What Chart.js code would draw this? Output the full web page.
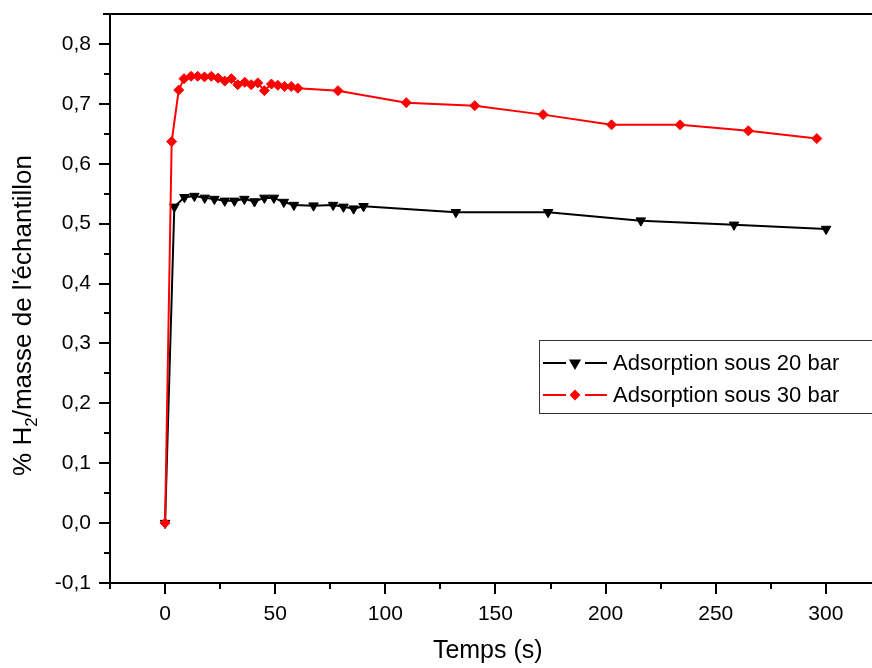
<!DOCTYPE html>
<html>
<head>
<meta charset="utf-8">
<script src="https://cdn.jsdelivr.net/npm/chart.js@4/dist/chart.umd.min.js"></script>
<style>
  html, body { margin: 0; padding: 0; background: #fff; }
  canvas { display: block; }
</style>
</head>
<body>
<canvas id="c" width="872" height="668"></canvas>
<script>
// series: time (s) and % H2 / sample mass
const timeBar30 = [0, 3.0, 6.2, 8.6, 11.8, 14.8, 17.9, 21.0, 24.1, 27.1, 30.1, 33.0, 36.2, 39.1, 42.1,
  45.1, 48.3, 51.2, 54.2, 57.3, 60.3, 78.5, 109.5, 140.6, 171.6, 202.7, 233.8, 264.8, 295.9];
const h2Bar30 = [0, 0.637, 0.723, 0.742, 0.746, 0.746, 0.745, 0.746, 0.743, 0.738, 0.742, 0.732, 0.736, 0.732, 0.735,
  0.722, 0.733, 0.731, 0.729, 0.729, 0.726, 0.722, 0.702, 0.697, 0.682, 0.665, 0.665, 0.655, 0.642];

const timeBar20 = [0, 4.2, 8.8, 13.3, 18.0, 22.4, 27.1, 31.5, 36.0, 40.6, 45.1, 49.4, 53.9, 58.5,
  67.4, 76.3, 81.0, 85.6, 90.1, 132.0, 173.9, 216.0, 258.3, 300.1];
const h2Bar20 = [0, 0.528, 0.544, 0.546, 0.543, 0.541, 0.538, 0.538, 0.541, 0.537, 0.543, 0.543, 0.536, 0.531,
  0.530, 0.531, 0.528, 0.525, 0.529, 0.519, 0.519, 0.505, 0.498, 0.491];

const seriesNames = ['Adsorption sous 20 bar', 'Adsorption sous 30 bar'];
const xTicks = [0, 50, 100, 150, 200, 250, 300];
const yTicks = [-0.1, 0, 0.1, 0.2, 0.3, 0.4, 0.5, 0.6, 0.7, 0.8];

const FONT = '"Liberation Sans", Arial, sans-serif';

const toPoints = (xs, ys) => xs.map((x, i) => ({ x: x, y: ys[i] }));
const fmt = v => v.toFixed(1).replace('.', ',');

// axis frame, major / minor ticks, y title with subscript and the legend box
const framePlugin = {
  id: 'frame',
  beforeDatasetsDraw(chart) {
    const { ctx, chartArea: a, scales: { x, y } } = chart;
    ctx.save();
    ctx.strokeStyle = '#000';
    ctx.lineWidth = 2;
    ctx.beginPath();
    ctx.moveTo(a.left, a.top);
    ctx.lineTo(a.left, a.bottom);
    ctx.lineTo(chart.width, a.bottom);
    ctx.moveTo(a.left - 7, a.top);
    ctx.lineTo(chart.width, a.top);
    for (let v = -25; v <= 325; v += 25) {
      const px = Math.round(x.getPixelForValue(v));
      const len = (v % 50 === 0) ? 11 : 6;
      ctx.moveTo(px, a.bottom);
      ctx.lineTo(px, a.bottom + len);
    }
    for (let i = -2; i <= 17; i++) {
      const py = Math.round(y.getPixelForValue(i * 0.05));
      const len = (i % 2 === 0) ? 11 : 6;
      ctx.moveTo(a.left, py);
      ctx.lineTo(a.left - len, py);
    }
    ctx.stroke();
    ctx.restore();
  },
  afterDraw(chart) {
    const { ctx, chartArea: a } = chart;
    ctx.save();
    // y title
    ctx.translate(24, (a.top + a.bottom) / 2 + 17);
    ctx.rotate(-Math.PI / 2);
    ctx.fillStyle = '#000';
    ctx.textBaseline = 'middle';
    const big = '26px ' + FONT, small = '17px ' + FONT;
    const parts = [['% H', big, 0], ['2', small, 8], ['/masse de l\'échantillon', big, 0]];
    let total = 0;
    parts.forEach(p => { ctx.font = p[1]; total += ctx.measureText(p[0]).width; });
    let cx = -total / 2;
    parts.forEach(p => {
      ctx.font = p[1];
      ctx.fillText(p[0], cx, p[2]);
      cx += ctx.measureText(p[0]).width;
    });
    ctx.restore();

    // legend
    ctx.save();
    const lx = 539.5, ly = 340.5;
    ctx.fillStyle = '#fff';
    ctx.fillRect(lx, ly, 360, 73);
    ctx.strokeStyle = '#333';
    ctx.lineWidth = 1;
    ctx.strokeRect(lx, ly, 360, 73);
    const rows = [
      { color: '#000', style: 'triangle', rot: 180, r: 5, y: 363 },
      { color: '#ff0000', style: 'rectRot', rot: 0, r: 4, y: 395 }
    ];
    rows.forEach((row, i) => {
      ctx.strokeStyle = row.color;
      ctx.lineWidth = 2;
      ctx.beginPath();
      ctx.moveTo(543, row.y); ctx.lineTo(566, row.y);
      ctx.moveTo(585, row.y); ctx.lineTo(607, row.y);
      ctx.stroke();
      ctx.fillStyle = row.color;
      Chart.helpers.drawPoint(ctx, { pointStyle: row.style, rotation: row.rot, radius: row.r, borderWidth: 1 }, 575, row.y);
      ctx.fillStyle = '#000';
      ctx.font = '22px ' + FONT;
      ctx.textBaseline = 'middle';
      ctx.fillText(seriesNames[i], 613, row.y + 1);
    });
    ctx.restore();
  }
};

new Chart(document.getElementById('c'), {
  type: 'line',
  data: {
    datasets: [
      {
        label: seriesNames[1],
        data: toPoints(timeBar30, h2Bar30),
        borderColor: '#ff0000',
        backgroundColor: '#ff0000',
        borderWidth: 2,
        pointStyle: 'rectRot',
        pointRadius: 5,
        pointBorderWidth: 1,
        tension: 0
      },
      {
        label: seriesNames[0],
        data: toPoints(timeBar20, h2Bar20),
        borderColor: '#000',
        backgroundColor: '#000',
        borderWidth: 2,
        pointStyle: 'triangle',
        pointRotation: 180,
        pointRadius: 5.5,
        pointBorderWidth: 1,
        tension: 0
      }
    ]
  },
  options: {
    responsive: false,
    animation: false,
    devicePixelRatio: 1,
    layout: { padding: { top: 14, right: 0, left: 0, bottom: 0 } },
    plugins: { legend: { display: false }, tooltip: { enabled: false } },
    scales: {
      x: {
        type: 'linear',
        min: -25,
        max: 318,
        grid: { display: false, drawTicks: false },
        border: { display: false },
        afterBuildTicks: s => { s.ticks = xTicks.map(v => ({ value: v })); },
        afterFit: s => { s.height = 85; },
        ticks: {
          padding: 19,
          color: '#000',
          font: { family: FONT, size: 21 },
          maxRotation: 0,
          callback: v => String(v)
        },
        title: {
          display: true,
          text: 'Temps (s)',
          color: '#000',
          font: { family: FONT, size: 25 },
          padding: { top: 0, bottom: 2 }
        }
      },
      y: {
        type: 'linear',
        min: -0.1,
        max: 0.85,
        grid: { display: false, drawTicks: false },
        border: { display: false },
        afterBuildTicks: s => { s.ticks = yTicks.map(v => ({ value: v })); },
        afterFit: s => { s.width = 110; s.paddingTop = 0; s.paddingBottom = 0; },
        ticks: {
          padding: 19,
          color: '#000',
          font: { family: FONT, size: 21 },
          callback: v => fmt(v)
        }
      }
    }
  },
  plugins: [framePlugin]
});
</script>
</body>
</html>
